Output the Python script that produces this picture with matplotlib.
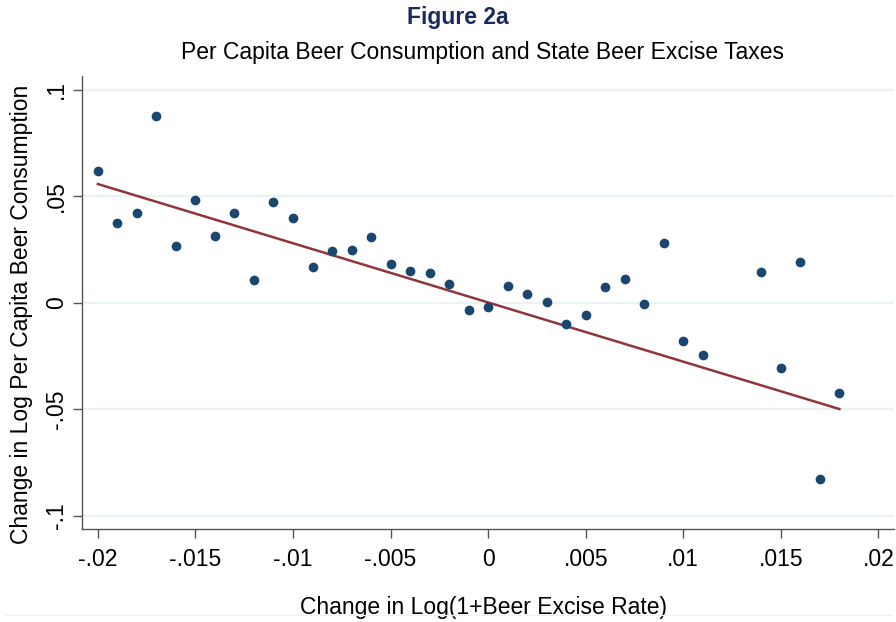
import numpy as np
import matplotlib
matplotlib.use('Agg')
import matplotlib.pyplot as plt
from matplotlib.lines import Line2D

plt.rcParams['font.family'] = ['Liberation Sans', 'DejaVu Sans']

# binned data
tax_change = [-0.020, -0.019, -0.018, -0.017, -0.016, -0.015, -0.014, -0.013,
              -0.012, -0.011, -0.010, -0.009, -0.008, -0.007, -0.006, -0.005,
              -0.004, -0.003, -0.002, -0.001, 0.000, 0.001, 0.002, 0.003,
              0.004, 0.005, 0.006, 0.007, 0.008, 0.009, 0.010, 0.011,
              0.014, 0.015, 0.016, 0.017, 0.018]
beer_change = [0.0621, 0.0374, 0.0422, 0.0878, 0.0267, 0.0482, 0.0314, 0.0421,
               0.0109, 0.0472, 0.0397, 0.0170, 0.0242, 0.0247, 0.0311, 0.0184,
               0.0148, 0.0140, 0.0087, -0.0032, -0.0019, 0.0081, 0.0040, 0.0003,
               -0.0101, -0.0059, 0.0074, 0.0112, -0.0004, 0.0281, -0.0179, -0.0245,
               0.0143, -0.0306, 0.0192, -0.0826, -0.0425]

# fitted line endpoints
fit_x = [-0.020, 0.018]
fit_y = [0.0558, -0.0499]

xticks = [-0.02, -0.015, -0.01, -0.005, 0, 0.005, 0.01, 0.015, 0.02]
xticklabels = ['-.02', '-.015', '-.01', '-.005', '0', '.005', '.01', '.015', '.02']
yticks = [-0.1, -0.05, 0, 0.05, 0.1]
yticklabels = ['-.1', '-.05', '0', '.05', '.1']

fig = plt.figure(figsize=(8.96, 6.22), dpi=100)
ax = fig.add_axes([0.0918, 0.149, 0.9060, 0.729])

ax.plot(tax_change, beer_change, 'o', color='#1a476f', markersize=7,
        markeredgewidth=0, zorder=3)
ax.plot(fit_x, fit_y, color='#90353b', linewidth=1.8, zorder=2)

ax.set_xlim(-0.0208, 0.0208)
ax.set_ylim(-0.1064, 0.1066)
ax.set_xticks(xticks)
ax.set_xticklabels(xticklabels)
ax.set_yticks(yticks)
ax.set_yticklabels(yticklabels, rotation=90, va='center')

ax.yaxis.grid(True, color='#eaf2f3', linewidth=1.6, zorder=0)
ax.set_axisbelow(True)

for s in ['top', 'right']:
    ax.spines[s].set_visible(False)
for s in ['left', 'bottom']:
    ax.spines[s].set_color('#555555')
    ax.spines[s].set_linewidth(1.0)

ax.tick_params(axis='both', direction='out', length=6.5, width=1.0,
               color='#555555', labelsize=16.5, labelcolor='black')
ax.tick_params(axis='x', pad=7)
ax.tick_params(axis='y', pad=4)

ax.set_xlabel('Change in Log(1+Beer Excise Rate)', fontsize=16.5)
ax.set_ylabel('Change in Log Per Capita Beer Consumption', fontsize=16.5)
ax.xaxis.set_label_coords(0.494, -0.147)
ax.yaxis.set_label_coords(-0.061, 0.473)

fig.text(0.511, 0.972, 'Figure 2a', ha='center', va='center', fontsize=16.5,
         fontweight='bold', color='#1a2a5c')
fig.text(0.538, 0.915, 'Per Capita Beer Consumption and State Beer Excise Taxes',
         ha='center', va='center', fontsize=16.5, color='black')

fig.add_artist(Line2D([0.006, 0.994], [0.011, 0.011], color='#f0f0f0',
                      linewidth=1.0, transform=fig.transFigure))

fig.savefig('out.png', dpi=100, facecolor='white')
